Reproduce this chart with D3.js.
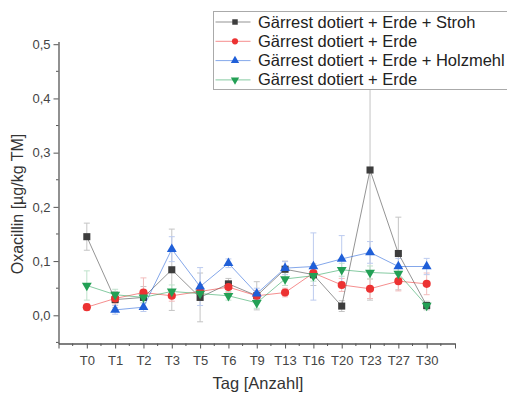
<!DOCTYPE html>
<html>
<head>
<meta charset="utf-8">
<script src="https://cdn.jsdelivr.net/npm/d3@7"></script>
<style>
  body { margin: 0; background: #fff; }
  text { font-family: "Liberation Sans", Arial, sans-serif; }
</style>
</head>
<body>
<div id="chart"></div>
<script>
var tage = ["T0","T1","T2","T3","T5","T6","T9","T13","T16","T20","T23","T27","T30"]
var stroh      = [0.145,0.029,0.033,0.084,0.033,0.058,0.036,0.085,0.075,0.017,0.268,0.114,0.018]
var strohErr   = [0.025,0.015,0.020,0.075,0.045,0.010,0.026,0.015,0.020,0.010,0.240,0.067,0.008]
var erde       = [0.015,0.031,0.042,0.036,0.044,0.052,0.036,0.042,0.078,0.056,0.049,0.063,0.058]
var erdeErr    = [0.006,0.010,0.027,0.010,0.012,0.010,0.010,0.008,0.010,0.012,0.018,0.018,0.020]
var holz       = [null,0.010,0.015,0.122,0.053,0.096,0.040,0.087,0.090,0.104,0.116,0.090,0.090]
var holzErr    = [0,0.008,0.008,0.023,0.035,0.008,0.010,0.012,0.062,0.043,0.020,0.015,0.015]
var erde2      = [0.055,0.038,0.033,0.044,0.040,0.036,0.023,0.067,0.073,0.084,0.079,0.077,0.018]
var erde2Err   = [0.027,0.010,0.010,0.012,0.010,0.008,0.010,0.012,0.010,0.012,0.012,0.012,0.006]
var yTicks = [0,0.1,0.2,0.3,0.4,0.5]

var series = [
  {name:"Gärrest dotiert + Erde + Stroh", values:stroh, err:strohErr, color:"#3d3d3d", errColor:"#c4c4c4", shape:"square"},
  {name:"Gärrest dotiert + Erde", values:erde, err:erdeErr, color:"#ec3232", errColor:"#f2bcbc", shape:"circle"},
  {name:"Gärrest dotiert + Erde + Holzmehl", values:holz, err:holzErr, color:"#1f5fd8", errColor:"#bccbef", shape:"up"},
  {name:"Gärrest dotiert + Erde", values:erde2, err:erde2Err, color:"#23a055", errColor:"#bfe2cc", shape:"down"}
]

var svg = d3.select("#chart").append("svg").attr("width",507).attr("height",394)

var x = d3.scaleLinear().domain([0,14]).range([58.5,455])
var y = d3.scaleLinear().domain([-0.052,0.505]).range([343.5,41.5])

// axes
var yAxis = svg.append("g").attr("transform","translate(58.5,0)")
  .call(d3.axisLeft(y).tickValues(yTicks).tickSize(5).tickSizeOuter(0)
    .tickFormat(function(d){return d3.format(".1f")(d).replace(".",",")}))
yAxis.selectAll(".tick line").attr("stroke","#555")
yAxis.selectAll(".domain").attr("stroke","#555").attr("stroke-width",1.3)
yAxis.selectAll("text").attr("fill","#444").attr("font-size",13).attr("x",-8)
yAxis.selectAll(".minor").data([0.05,0.15,0.25,0.35,0.45,-0.05]).enter().append("line")
  .attr("class","minor").attr("x1",-2.5).attr("x2",0)
  .attr("y1",function(d){return y(d)}).attr("y2",function(d){return y(d)}).attr("stroke","#555")

var xAxis = svg.append("g").attr("transform","translate(0,343.5)")
  .call(d3.axisBottom(x).tickValues(d3.range(0,15)).tickSize(5).tickSizeOuter(0)
    .tickFormat(function(d){return tage[d-1] || ""}))
xAxis.selectAll(".tick line").attr("stroke","#555")
xAxis.selectAll(".domain").attr("stroke","#555").attr("stroke-width",1.3)
xAxis.selectAll("text").attr("fill","#444").attr("font-size",13).attr("y",12)
xAxis.selectAll(".minor").data(d3.range(0.5,14,1)).enter().append("line")
  .attr("class","minor").attr("y1",0).attr("y2",2.5)
  .attr("x1",function(d){return x(d)}).attr("x2",function(d){return x(d)}).attr("stroke","#555")

svg.append("text").text("Oxacillin [µg/kg TM]").attr("transform","translate(23,204) rotate(-90)")
  .attr("text-anchor","middle").attr("font-size",16).attr("fill","#333")
svg.append("text").text("Tag [Anzahl]").attr("x",258).attr("y",389)
  .attr("text-anchor","middle").attr("font-size",16.5).attr("fill","#333")

function symbolPath(shape,size){
  var t = {square:d3.symbolSquare, circle:d3.symbolCircle, up:d3.symbolTriangle, down:d3.symbolTriangle}
  return d3.symbol().type(t[shape]).size(size)()
}

// error bars
series.forEach(function(s){
  var g = svg.append("g")
  s.values.forEach(function(v,i){
    if(v==null) return
    var cx = x(i+1), e = s.err[i]
    g.append("line").attr("x1",cx).attr("x2",cx).attr("y1",y(v-e)).attr("y2",y(v+e))
      .attr("stroke",s.errColor).attr("stroke-width",1)
    ;[v-e,v+e].forEach(function(c){
      g.append("line").attr("x1",cx-3).attr("x2",cx+3).attr("y1",y(c)).attr("y2",y(c))
        .attr("stroke",s.errColor).attr("stroke-width",1)
    })
  })
})

// lines and markers
var sizes = {square:50, circle:52, up:42, down:42}
series.forEach(function(s){
  var pts = s.values.map(function(v,i){return {i:i,v:v}}).filter(function(d){return d.v!=null})
  var line = d3.line().x(function(d){return x(d.i+1)}).y(function(d){return y(d.v)})
  svg.append("path").datum(pts).attr("d",line).attr("fill","none")
    .attr("stroke",s.color).attr("stroke-opacity",0.55).attr("stroke-width",1)
  svg.selectAll(null).data(pts).enter().append("path")
    .attr("d",symbolPath(s.shape, sizes[s.shape]))
    .attr("transform",function(d){return "translate("+x(d.i+1)+","+y(d.v)+")"+(s.shape=="down"?" rotate(180)":"")})
    .attr("fill",s.color)
})

// legend
var legend = svg.append("g").attr("transform","translate(213.5,11.5)")
legend.append("rect").attr("width",300).attr("height",78).attr("fill","#fff").attr("stroke","#aaa")
series.forEach(function(s,k){
  var ly = 10.5 + k*19.3
  legend.append("line").attr("x1",2).attr("x2",37).attr("y1",ly).attr("y2",ly)
    .attr("stroke",s.color).attr("stroke-opacity",0.55)
  legend.append("path").attr("d",symbolPath(s.shape,30))
    .attr("transform","translate(21.5,"+ly+")"+(s.shape=="down"?" rotate(180)":"")).attr("fill",s.color)
  legend.append("text").text(s.name).attr("x",44.5).attr("y",ly+5.5)
    .attr("font-size",16.5).attr("fill","#222")
})
</script>
</body>
</html>
